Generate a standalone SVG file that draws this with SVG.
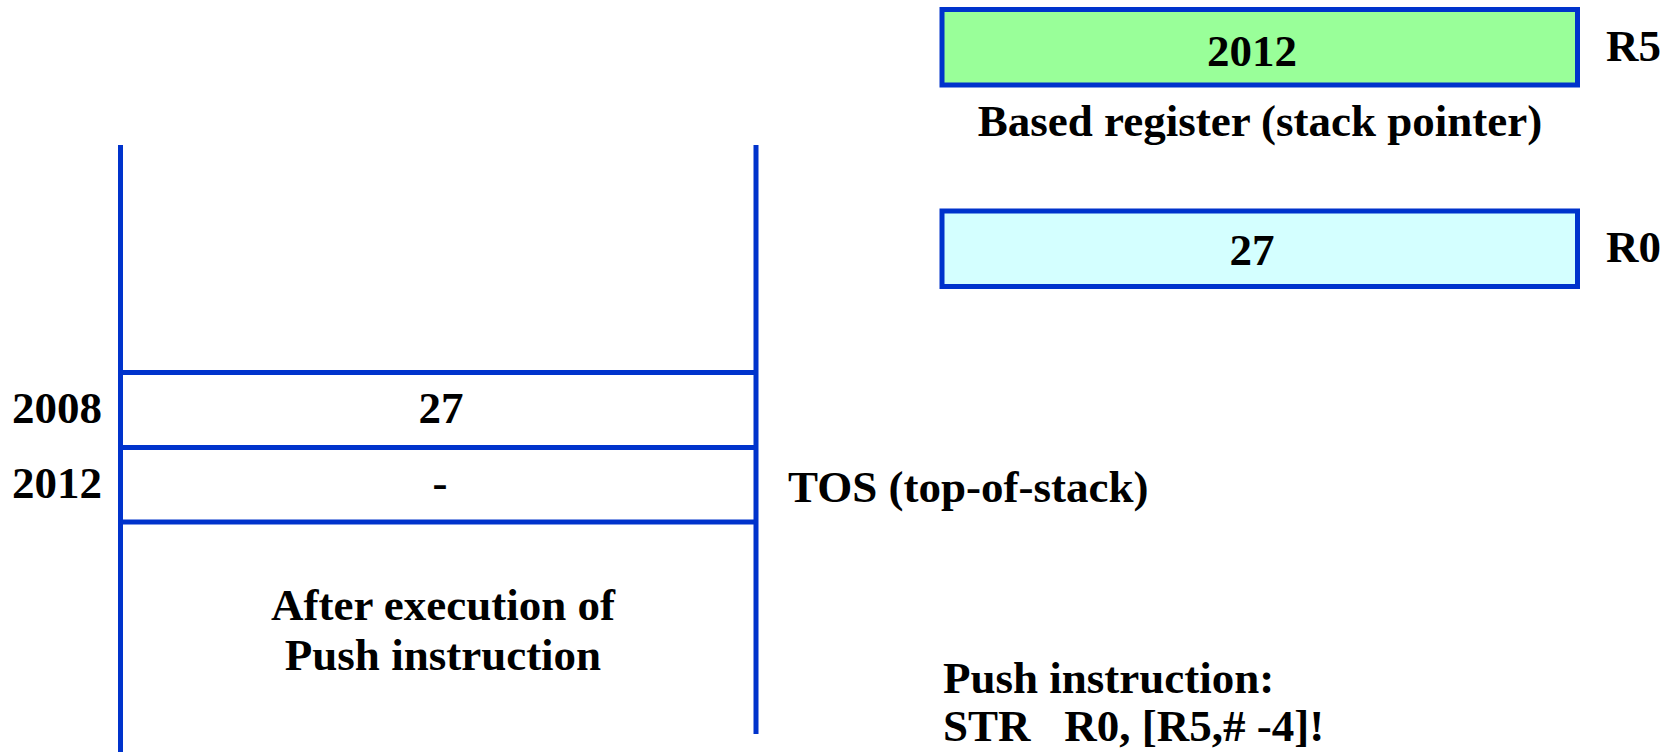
<svg xmlns="http://www.w3.org/2000/svg" width="1674" height="752" viewBox="0 0 1674 752">
<style>
text{font-family:"Liberation Serif","Times New Roman",serif;font-weight:bold;font-size:45px;fill:#000}
.c{text-anchor:middle}
.ln{stroke:#0033CC;stroke-width:5;fill:none}
.box{stroke:#0033CC;stroke-width:5}
</style>
<rect width="1674" height="752" fill="#fff"/>
<g id="r5">
<rect class="box" x="942" y="9.5" width="635.5" height="75.5" fill="#99FF99"/>
<text class="c" x="1252" y="66">2012</text>
<text x="1606" y="61">R5</text>
<text class="c" x="1260" y="136">Based register (stack pointer)</text>
</g>
<g id="r0">
<rect class="box" x="942" y="211" width="635.5" height="75.5" fill="#D4FFFF"/>
<text class="c" x="1252" y="265">27</text>
<text x="1606" y="262">R0</text>
</g>
<g id="stack">
<line class="ln" x1="120.5" y1="145" x2="120.5" y2="752"/>
<line class="ln" x1="756" y1="145" x2="756" y2="734"/>
<line class="ln" x1="120.5" y1="372.5" x2="756" y2="372.5"/>
<line class="ln" x1="120.5" y1="447.5" x2="756" y2="447.5"/>
<line class="ln" x1="120.5" y1="522" x2="756" y2="522"/>
<text x="12" y="423">2008</text>
<text class="c" x="441" y="423">27</text>
<text x="12" y="498">2012</text>
<text class="c" x="440" y="498">-</text>
<text x="788" y="502">TOS (top-of-stack)</text>
<text class="c" x="443" y="620">After execution of</text>
<text class="c" x="443" y="670">Push instruction</text>
</g>
<g id="instr">
<text x="943" y="693">Push instruction:</text>
<text x="943" y="741" xml:space="preserve">STR   R0, [R5,# -4]!</text>
</g>
<g id="connectors"></g>
</svg>
